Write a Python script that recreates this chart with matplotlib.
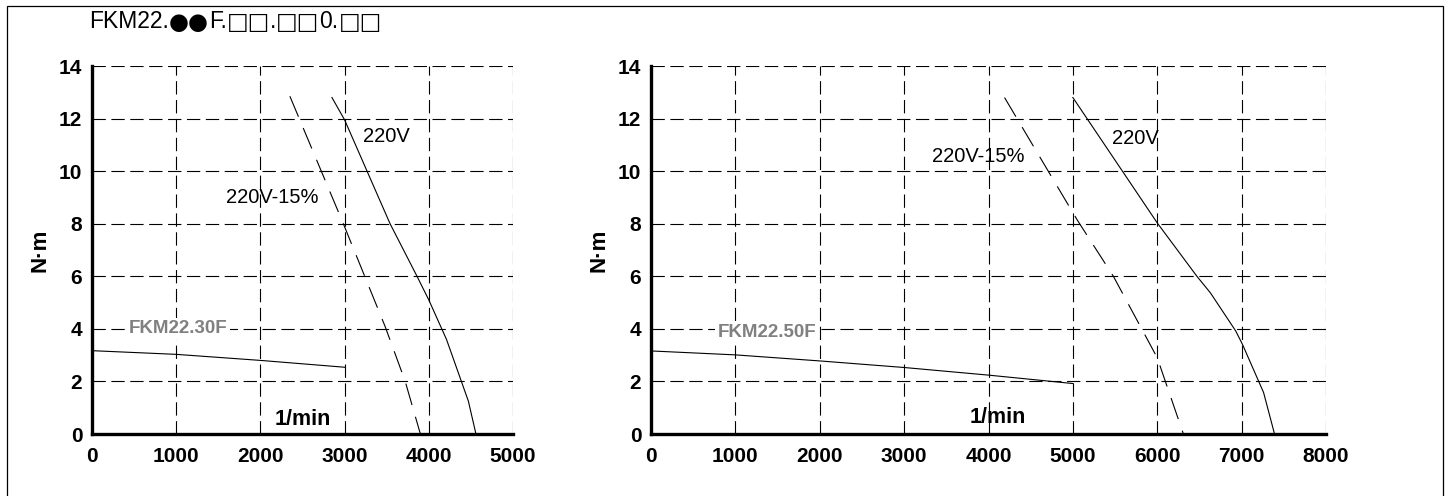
import matplotlib
matplotlib.use('Agg')
import matplotlib.pyplot as plt
from matplotlib.patches import Rectangle

plt.rcParams['font.family'] = ['Liberation Sans', 'DejaVu Sans']

title_parts = ['FKM22.', '●●', 'F.', '□□', '.', '□□', '0.', '□□']
y_ticks = [0, 2, 4, 6, 8, 10, 12, 14]

# left motor: FKM22.30F
l_name = 'FKM22.30F'
l_xticks = [0, 1000, 2000, 3000, 4000, 5000]
l_rated_x = [0, 1000, 2000, 3000]
l_rated_y = [3.17, 3.03, 2.80, 2.54]
l_220_x = [2850, 3000, 3540, 3860, 4000, 4210, 4470, 4560]
l_220_y = [12.8, 11.95, 8.0, 6.0, 5.1, 3.6, 1.25, 0.0]
l_215_x = [2350, 2985, 3480, 3720, 3900]
l_215_y = [12.85, 8.0, 4.1, 2.0, 0.0]

# right motor: FKM22.50F
r_name = 'FKM22.50F'
r_xticks = [0, 1000, 2000, 3000, 4000, 5000, 6000, 7000, 8000]
r_rated_x = [0, 1000, 2000, 3000, 4000, 5000]
r_rated_y = [3.16, 3.01, 2.78, 2.53, 2.24, 1.92]
r_220_x = [5000, 6000, 6470, 6630, 6930, 7010, 7260, 7390]
r_220_y = [12.8, 8.03, 6.0, 5.37, 3.92, 3.41, 1.58, 0.0]
r_215_x = [4190, 5050, 5480, 6000, 6310]
r_215_y = [12.8, 8.15, 6.0, 2.9, 0.0]

fig = plt.figure(figsize=(14.51, 4.96), dpi=100)
fig.patches.append(Rectangle((7/1451, -0.1), 1436/1451, 1.1 - 6/496,
                             transform=fig.transFigure, fill=False,
                             edgecolor='black', linewidth=0.9))

# title: bullets and squares from DejaVu, which draws them at full size
renderer = fig.canvas.get_renderer()
x0 = 89
for part in title_parts:
    fam = ['DejaVu Sans'] if ('□' in part or '●' in part) else ['Liberation Sans']
    t = fig.text(x0/1451, 1 - 28.5/496, part, fontsize=16.5, va='baseline',
                 ha='left', family=fam)
    x0 += t.get_window_extent(renderer).width


def draw(ax, xticks, rx, ry, vx, vy, dx, dy, name, name_xy,
         lbl220, lbl215, minxy):
    ax.plot(rx, ry, color='black', linewidth=0.8)
    ax.plot(vx, vy, color='black', linewidth=0.8)
    ax.plot(dx, dy, color='black', linewidth=0.8, dashes=(20, 11))
    ax.set_xlim(xticks[0], xticks[-1])
    ax.set_ylim(0, 14)
    ax.set_xticks(xticks)
    ax.set_yticks(y_ticks)
    ax.tick_params(length=0, labelsize=15)
    ax.tick_params(axis='x', pad=9)
    ax.tick_params(axis='y', pad=7)
    for t in ax.get_xticklabels() + ax.get_yticklabels():
        t.set_fontweight('bold')
    ax.grid(True, color='black', linestyle=(0, (12, 5)), linewidth=0.8)
    ax.spines['top'].set_visible(False)
    ax.spines['right'].set_visible(False)
    ax.spines['left'].set_linewidth(2.4)
    ax.spines['bottom'].set_linewidth(2.4)
    ax.set_ylabel('N·m', fontsize=16, fontweight='bold', labelpad=6)
    ax.text(name_xy[0], name_xy[1], name, color='#808080', fontsize=13.5,
            fontweight='bold', ha='center', va='center',
            bbox=dict(facecolor='white', edgecolor='none', pad=2))
    ax.text(lbl220[0], lbl220[1], '220V', fontsize=14.5, ha='center', va='center')
    ax.text(lbl215[0], lbl215[1], '220V-15%', fontsize=14.5, ha='center', va='center')
    ax.text(minxy[0], minxy[1], '1/min', fontsize=15.5, fontweight='bold',
            ha='center', va='center')


ax1 = fig.add_axes([92/1451, 62/496, 421/1451, 368/496])
draw(ax1, l_xticks, l_rated_x, l_rated_y, l_220_x, l_220_y, l_215_x, l_215_y,
     l_name, (1020, 4.0), (3500, 11.3), (2140, 9.0), (2500, 0.57))

ax2 = fig.add_axes([651/1451, 62/496, 675/1451, 368/496])
draw(ax2, r_xticks, r_rated_x, r_rated_y, r_220_x, r_220_y, r_215_x, r_215_y,
     r_name, (1372, 3.85), (5740, 11.26), (3880, 10.56), (4116, 0.63))

fig.savefig('out.png', dpi=100)
